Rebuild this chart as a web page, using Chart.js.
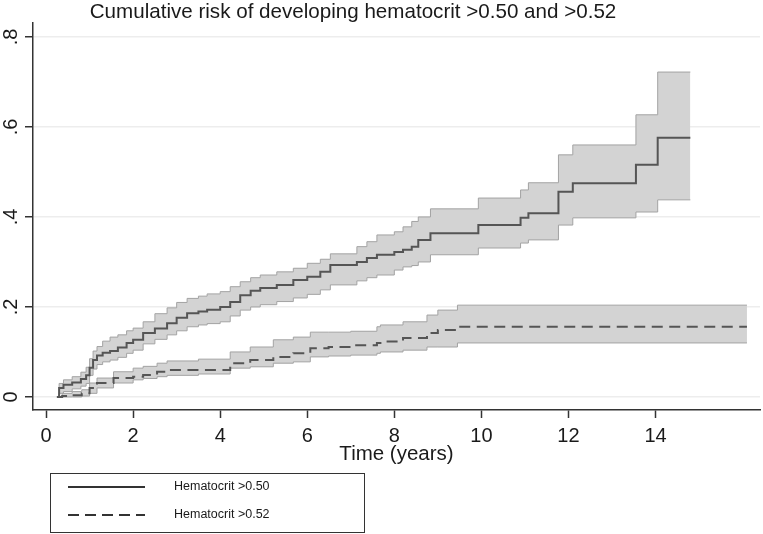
<!DOCTYPE html>
<html>
<head>
<meta charset="utf-8">
<script src="https://cdn.jsdelivr.net/npm/chart.js@4/dist/chart.umd.min.js"></script>
<style>
  body { margin: 0; background: #fff; }
</style>
</head>
<body>
<canvas id="myChart" width="763" height="534"></canvas>
<script>
// chart text
const chartTitle = 'Cumulative risk of developing hematocrit >0.50 and >0.52';
const xTitle = 'Time (years)';
const seriesNames = ['Hematocrit >0.50', 'Hematocrit >0.52'];
const xTicks = [0, 2, 4, 6, 8, 10, 12, 14];
const yTicks = [0, 0.2, 0.4, 0.6, 0.8];
const yTickLabels = ['0', '.2', '.4', '.6', '.8'];

// hematocrit >0.50 : step times, estimate and confidence band
const times50 = [0.25, 0.30, 0.40, 0.60, 0.80, 0.92, 1.00, 1.08, 1.17, 1.30, 1.47, 1.65, 1.85, 2.00, 2.23, 2.50, 2.78, 3.00, 3.24, 3.50, 3.70, 4.00, 4.23, 4.46, 4.70, 4.92, 5.30, 5.68, 6.00, 6.30, 6.53, 7.14, 7.37, 7.60, 8.00, 8.20, 8.40, 8.55, 8.83, 9.93, 10.90, 11.08, 11.77, 12.10, 13.55, 14.05, 14.80];
const risk50 = [0.000, 0.020, 0.027, 0.032, 0.040, 0.048, 0.065, 0.082, 0.092, 0.098, 0.102, 0.110, 0.120, 0.127, 0.142, 0.152, 0.164, 0.176, 0.186, 0.190, 0.194, 0.200, 0.211, 0.226, 0.236, 0.242, 0.249, 0.260, 0.267, 0.278, 0.293, 0.300, 0.309, 0.316, 0.322, 0.327, 0.334, 0.349, 0.364, 0.382, 0.398, 0.408, 0.456, 0.475, 0.516, 0.576, 0.576];
const upper50 = [0.000, 0.030, 0.038, 0.045, 0.055, 0.066, 0.085, 0.102, 0.112, 0.124, 0.133, 0.138, 0.147, 0.153, 0.167, 0.185, 0.198, 0.210, 0.219, 0.224, 0.229, 0.234, 0.245, 0.256, 0.265, 0.271, 0.278, 0.286, 0.297, 0.306, 0.318, 0.334, 0.345, 0.360, 0.367, 0.378, 0.390, 0.400, 0.418, 0.442, 0.460, 0.476, 0.538, 0.560, 0.627, 0.722, 0.722];
const lower50 = [0.000, 0.008, 0.012, 0.018, 0.024, 0.030, 0.048, 0.062, 0.072, 0.078, 0.082, 0.088, 0.097, 0.104, 0.118, 0.128, 0.138, 0.147, 0.156, 0.160, 0.163, 0.167, 0.180, 0.193, 0.200, 0.205, 0.212, 0.220, 0.228, 0.238, 0.249, 0.258, 0.265, 0.271, 0.282, 0.289, 0.292, 0.300, 0.316, 0.331, 0.342, 0.349, 0.382, 0.398, 0.411, 0.438, 0.438];

// hematocrit >0.52
const times52 = [0.25, 0.37, 0.60, 0.82, 1.00, 1.17, 1.55, 2.00, 2.23, 2.55, 2.78, 3.50, 4.23, 4.69, 5.22, 5.68, 6.07, 6.49, 7.00, 7.60, 7.68, 8.20, 8.75, 9.00, 9.45, 16.10];
const risk52 = [0.000, 0.002, 0.004, 0.008, 0.020, 0.031, 0.042, 0.045, 0.049, 0.056, 0.060, 0.060, 0.075, 0.082, 0.089, 0.097, 0.108, 0.111, 0.115, 0.120, 0.123, 0.131, 0.142, 0.149, 0.156, 0.156];
const upper52 = [0.000, 0.008, 0.012, 0.016, 0.031, 0.042, 0.056, 0.064, 0.068, 0.075, 0.080, 0.084, 0.100, 0.111, 0.127, 0.133, 0.144, 0.144, 0.146, 0.156, 0.160, 0.167, 0.182, 0.193, 0.204, 0.204];
const lower52 = [0.000, 0.000, 0.000, 0.002, 0.008, 0.020, 0.031, 0.038, 0.041, 0.045, 0.048, 0.051, 0.064, 0.067, 0.075, 0.078, 0.089, 0.091, 0.093, 0.097, 0.100, 0.104, 0.111, 0.111, 0.120, 0.120];

const FONT = '"Liberation Sans", Arial, Helvetica, sans-serif';
const lineColor = '#555555';
const bandFill = '#d3d3d3';
const bandEdge = '#a3a3a3';

function pts(times, vals) {
    return times.map((t, i) => ({ x: t, y: vals[i] }));
}

// value holds from its time until the next time
function band(times, vals, fillTo) {
    return {
        data: pts(times, vals),
        stepped: 'before',
        borderColor: bandEdge,
        borderWidth: 1,
        backgroundColor: bandFill,
        pointRadius: 0,
        fill: fillTo
    };
}

// title, rotated y labels and the boxed legend
const extras = {
    id: 'extras',
    afterDraw(chart) {
        const ctx = chart.ctx;
        const y = chart.scales.y;
        ctx.save();
        ctx.fillStyle = '#1a1a1a';

        ctx.font = '20.6px ' + FONT;
        ctx.textAlign = 'center';
        ctx.textBaseline = 'alphabetic';
        ctx.fillText(chartTitle, 353, 18);

        ctx.font = '20px ' + FONT;
        yTicks.forEach((v, i) => {
            ctx.save();
            ctx.translate(17, y.getPixelForValue(v));
            ctx.rotate(-Math.PI / 2);
            ctx.fillText(yTickLabels[i], 0, 0);
            ctx.restore();
        });

        ctx.strokeStyle = '#333';
        ctx.lineWidth = 1;
        ctx.strokeRect(50.5, 473.5, 314, 59);

        const rows = [487, 515];
        const dashes = [[], [11, 6]];
        ctx.font = '12.5px ' + FONT;
        ctx.textAlign = 'left';
        ctx.textBaseline = 'middle';
        rows.forEach((ry, i) => {
            ctx.beginPath();
            ctx.setLineDash(dashes[i]);
            ctx.lineWidth = 2;
            ctx.strokeStyle = '#333';
            ctx.moveTo(68, ry);
            ctx.lineTo(145, ry);
            ctx.stroke();
            ctx.fillText(seriesNames[i], 174, ry);
        });
        ctx.restore();
    }
};

const config = {
    type: 'line',
    data: {
        datasets: [
            { label: seriesNames[0], data: pts(times50, risk50), stepped: 'before', borderColor: lineColor, borderWidth: 2, pointRadius: 0, fill: false },
            { label: seriesNames[1], data: pts(times52, risk52), stepped: 'before', borderColor: lineColor, borderWidth: 2, borderDash: [11, 6.5], pointRadius: 0, fill: false },
            band(times50, upper50, 3),
            band(times50, lower50, false),
            band(times52, upper52, 5),
            band(times52, lower52, false)
        ]
    },
    options: {
        responsive: false,
        animation: false,
        devicePixelRatio: 1,
        layout: { padding: { top: 23, right: 3, bottom: 67, left: 0 } },
        plugins: {
            legend: { display: false },
            title: { display: false },
            tooltip: { enabled: false },
            filler: { drawTime: 'beforeDatasetsDraw' }
        },
        scales: {
            x: {
                type: 'linear',
                min: -0.3,
                max: 16.4,
                afterBuildTicks: s => { s.ticks = xTicks.map(v => ({ value: v })); },
                afterFit: s => { s.height = 57; },
                grid: { drawOnChartArea: false, drawTicks: true, tickLength: 8, tickColor: '#333', tickWidth: 1.5 },
                border: { display: true, color: '#333', width: 1.5 },
                ticks: { font: { family: FONT, size: 20 }, color: '#1a1a1a', padding: 6, maxRotation: 0, autoSkip: false },
                title: { display: true, text: xTitle, font: { family: FONT, size: 20.5 }, color: '#1a1a1a', padding: { top: 0, bottom: 0 } }
            },
            y: {
                type: 'linear',
                min: -0.029,
                max: 0.831,
                afterBuildTicks: s => { s.ticks = yTicks.map(v => ({ value: v })); },
                afterFit: s => { s.width = 33; },
                grid: { color: '#ededed', lineWidth: 1.5, drawTicks: true, tickLength: 8, tickColor: '#333', tickWidth: 1.5 },
                border: { display: true, color: '#333', width: 1.5 },
                ticks: { display: false }
            }
        }
    },
    plugins: [extras]
};

const myChart = new Chart(document.getElementById('myChart'), config);
</script>
</body>
</html>
